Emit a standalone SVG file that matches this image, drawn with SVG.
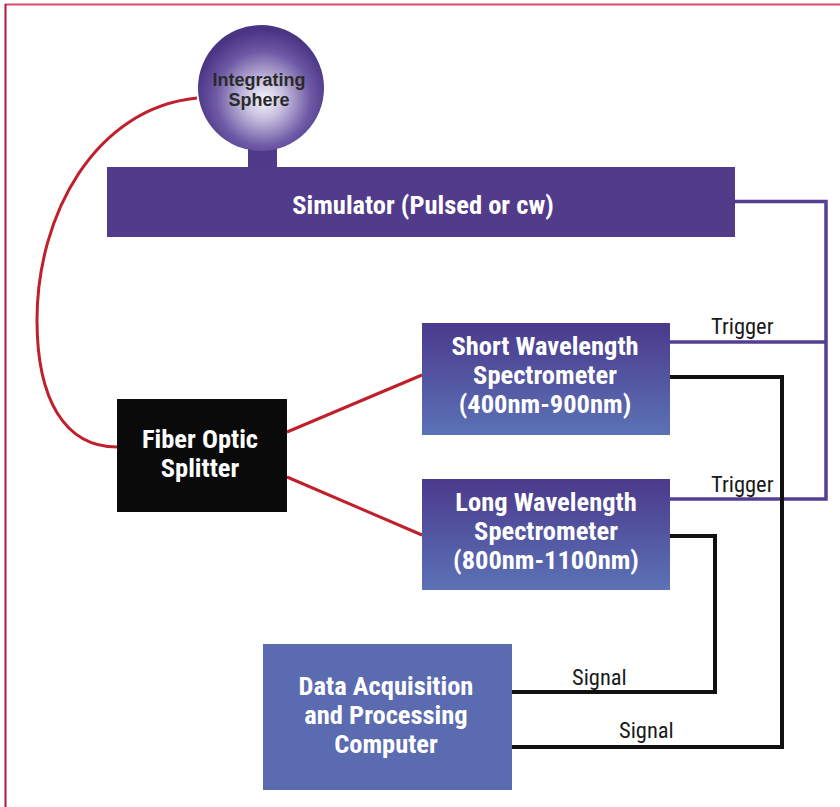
<svg xmlns="http://www.w3.org/2000/svg" width="840" height="807" viewBox="0 0 840 807">
  <defs>
    <radialGradient id="sphereGrad" cx="263" cy="98" r="68" fx="264" fy="100" gradientUnits="userSpaceOnUse">
      <stop offset="0" stop-color="#f6f5fa"/>
      <stop offset="0.3" stop-color="#c4bcdd"/>
      <stop offset="0.7" stop-color="#6d59a5"/>
      <stop offset="1" stop-color="#4a3484"/>
    </radialGradient>
    <linearGradient id="specGrad" x1="0" y1="0" x2="0" y2="1">
      <stop offset="0" stop-color="#4b3a8c"/>
      <stop offset="1" stop-color="#5b72b6"/>
    </linearGradient>
  </defs>
  <style>
    .bold { font-family: "Liberation Sans Narrow", "Roboto Condensed", "DejaVu Sans Condensed", "Liberation Sans", sans-serif; font-weight: bold; font-size: 26.5px; fill: #ffffff; text-anchor: middle; }
    .lbl { font-family: "Liberation Sans Narrow", "Roboto Condensed", "DejaVu Sans Condensed", "Liberation Sans", sans-serif; font-size: 22.5px; fill: #1a1a1a; }
    .sph { font-family: "Liberation Sans", Arial, sans-serif; font-weight: bold; font-size: 18px; fill: #2a2a2a; text-anchor: middle; }
    .fiber { fill: none; stroke: #c0202c; stroke-width: 3; }
    .trig { fill: none; stroke: #553f92; stroke-width: 3.5; }
    .sig { fill: none; stroke: #111111; stroke-width: 4; stroke-linejoin: miter; }
  </style>
  <rect x="0" y="0" width="840" height="807" fill="#ffffff"/>
  <!-- frame -->
  <line x1="5" y1="4.5" x2="840" y2="4.5" stroke="#dc4d6a" stroke-width="2"/>
  <line x1="5.5" y1="4" x2="5.5" y2="807" stroke="#b4173d" stroke-width="2"/>

  <g id="connectors">
    <path class="fiber" d="M197,98 C95,108 37,215 37,320 C37,400 65,447 117,447"/>
    <path class="fiber" d="M287,432 L422,375"/>
    <path class="fiber" d="M287,477 L422,535"/>
    <path class="trig" d="M735,201.5 L826,201.5 L826,499 L670,499"/>
    <path class="trig" d="M670,342 L826,342"/>
    <path class="sig" d="M670,377 L782,377 L782,747 L512,747"/>
    <path class="sig" d="M670,536 L715,536 L715,692 L512,692"/>
    <text class="lbl" x="711" y="334">Trigger</text>
    <text class="lbl" x="711" y="492">Trigger</text>
    <text class="lbl" x="572" y="685">Signal</text>
    <text class="lbl" x="619" y="738">Signal</text>
  </g>

  <g id="sphere">
    <rect x="248" y="146" width="29" height="24" fill="#4f3a8a"/>
    <circle cx="261" cy="88" r="63" fill="url(#sphereGrad)"/>
    <text class="sph" x="259" y="86">Integrating</text>
    <text class="sph" x="259" y="106">Sphere</text>
  </g>

  <g id="simulator">
    <rect x="107" y="167" width="628" height="70" fill="#533b8b"/>
    <text class="bold" x="423" y="214" font-size="27.5">Simulator (Pulsed or cw)</text>
  </g>

  <g id="short-spectrometer">
    <rect x="422" y="323" width="248" height="112" fill="url(#specGrad)"/>
    <text class="bold" x="545" y="355">Short Wavelength</text>
    <text class="bold" x="545" y="384">Spectrometer</text>
    <text class="bold" x="545" y="413">(400nm-900nm)</text>
  </g>

  <g id="long-spectrometer">
    <rect x="422" y="479" width="248" height="111" fill="url(#specGrad)"/>
    <text class="bold" x="546" y="511">Long Wavelength</text>
    <text class="bold" x="546" y="540">Spectrometer</text>
    <text class="bold" x="546" y="569">(800nm-1100nm)</text>
  </g>

  <g id="fiber-splitter">
    <rect x="117" y="399" width="170" height="113" fill="#0a0a0a"/>
    <text class="bold" x="200" y="448">Fiber Optic</text>
    <text class="bold" x="200" y="477">Splitter</text>
  </g>

  <g id="data-acquisition">
    <rect x="263" y="644" width="249" height="146" fill="#5a6bb0"/>
    <text class="bold" x="386" y="695">Data Acquisition</text>
    <text class="bold" x="386" y="724">and Processing</text>
    <text class="bold" x="386" y="753">Computer</text>
  </g>
</svg>
